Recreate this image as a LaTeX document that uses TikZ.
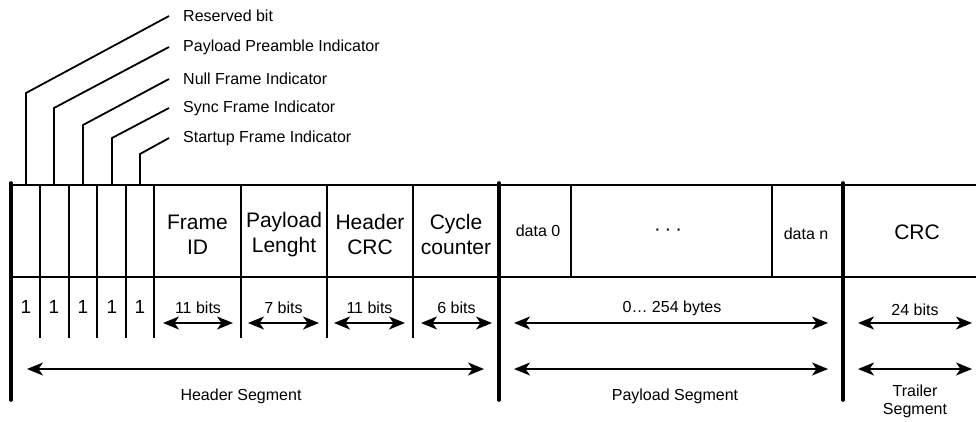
\documentclass[tikz,border=0pt]{standalone}
\usepackage{fontspec}
\setmainfont{Liberation Sans}
\usetikzlibrary{arrows.meta}
\tikzset{>={Stealth[length=16pt,width=13pt,inset=4.5pt]}}

\begin{document}
\begin{tikzpicture}[x=1pt,y=-1pt,
    seg/.style={line width=3.6pt,line cap=round},
    fld/.style={line width=1.8pt},
    dim/.style={<->,line width=2pt},
    lbl/.style={font=\fontsize{16}{18}\selectfont,inner sep=0pt},
    big/.style={font=\fontsize{21}{25}\selectfont,inner sep=0pt,align=center}]
    \useasboundingbox (0,0) rectangle (976,421);
    % frame rows
    \draw[fld] (11,185) -- (976,185);
    \draw[fld] (11,277) -- (976,277);
    \foreach \x in {40,69,97,126,154,241,327,413}
      \draw[fld] (\x,185) -- (\x,338);
    \foreach \x in {571,772}
      \draw[fld] (\x,185) -- (\x,277);
    \foreach \x in {11,499,843}
      \draw[seg] (\x,183) -- (\x,400);
    % flag bits and their leaders
    \foreach \i/\x/\ytop/\yend/\txt in {1/26/93/16/Reserved bit,
        2/54/108/47/Payload Preamble Indicator,
        3/83/125/79/Null Frame Indicator,
        4/112/138/108/Sync Frame Indicator,
        5/140/154/138/Startup Frame Indicator} {
      \node[lbl,anchor=west] (tag\i) at (183,\yend) {\txt};
      \node[lbl,font=\fontsize{19}{21}\selectfont] (bit\i) at (\x,307) {1};
      \draw[fld] (\x,185) -- (\x,\ytop) -- ([xshift=-14pt]tag\i.west);
    }
    % header fields
    \node[big] (fid) at (197.5,234.5) {Frame\\ID};
    \node[big] (plen) at (284,234.5) {Payload\\Lenght};
    \node[big] (hcrc) at (370,234.5) {Header\\CRC};
    \node[big] (cyc) at (456,234.5) {Cycle\\counter};
    \foreach \xa/\xb/\txt in {163/233/11 bits,248/319/7 bits,334/405/11 bits,421/492/6 bits} {
      \node[lbl] at ({(\xa+\xb)/2},308) {\txt};
      \draw[dim] (\xa,323) -- (\xb,323);
    }
    % payload and trailer
    \node[lbl] (d0) at (538,231) {data 0};
    \node[lbl,font=\fontsize{20}{22}\selectfont] (dots) at (668,232) {·\hspace{4pt}·\hspace{4pt}·};
    \node[lbl] (dn) at (806,234) {data n};
    \node[big] (crc) at (917,232) {CRC};
    \node[lbl] (plsize) at (672,308) {0… 254 bytes};
    \draw[dim] (514,323) -- (828,323);
    \node[lbl] (trsize) at (915,310) {24 bits};
    \draw[dim] (858,323) -- (972,323);
    % segments
    \draw[dim] (27,369) -- (484,369);
    \draw[dim] (514,369) -- (828,369);
    \draw[dim] (858,369) -- (972,369);
    \node[lbl] (hseg) at (241,396) {Header Segment};
    \node[lbl] (pseg) at (675,396) {Payload Segment};
    \node[lbl,align=center,font=\fontsize{16}{18}\selectfont] (tseg) at (915,401) {Trailer\\Segment};
\end{tikzpicture}
\end{document}
